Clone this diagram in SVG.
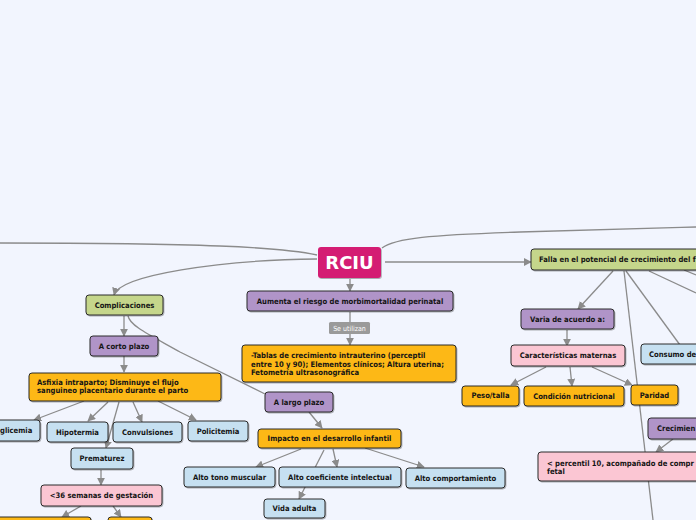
<svg xmlns="http://www.w3.org/2000/svg" width="696" height="520" viewBox="0 0 696 520">
<defs>
<style>
.n rect{stroke:#2b2b2b;stroke-width:1;filter:url(#sh)}
.t{font-family:"DejaVu Sans Condensed","DejaVu Sans",sans-serif;font-weight:bold;font-size:7.6px;fill:#151515}
.c{text-anchor:middle}
.pu{fill:#b094c8}.gr{fill:#c5d68b}.or{fill:#fdb813}.pk{fill:#fbc6d3}.bl{fill:#c6e0f1}
#connectors path{fill:none;stroke:#8b8b8b;stroke-width:1.3}
</style>
<filter id="sh" x="-10%" y="-20%" width="130%" height="160%">
<feDropShadow dx="0.8" dy="1" stdDeviation="0.7" flood-color="#000" flood-opacity="0.3"/>
</filter>
<marker id="ar" viewBox="0 0 10 10" refX="9" refY="5" markerWidth="8" markerHeight="8" markerUnits="userSpaceOnUse" orient="auto">
<path d="M0,0 L10,5 L0,10 z" fill="#8b8b8b"/>
</marker>
</defs>
<rect width="696" height="520" fill="#f2f5fe"/>

<g id="connectors">
<path d="M317,255 C280,247 200,243 0,243"/>
<path d="M317,259 C220,260 120,275 114,295" marker-end="url(#ar)"/>
<path d="M382,248 C395,238 430,235 520,232 S650,228 696,227"/>
<path d="M385,262 L531,262" marker-end="url(#ar)"/>
<path d="M350,279 L350,291" marker-end="url(#ar)"/>
<path d="M350,312 L350,345" marker-end="url(#ar)"/>
<path d="M124,316 L124,336" marker-end="url(#ar)"/>
<path d="M128,316 C130,326 150,335 180,352 L265,394"/>
<path d="M124,356 L124,372" marker-end="url(#ar)"/>
<path d="M84,401 L34,420" marker-end="url(#ar)"/>
<path d="M108,402 L88,421" marker-end="url(#ar)"/>
<path d="M133,402 L142,422" marker-end="url(#ar)"/>
<path d="M158,401 L196,420" marker-end="url(#ar)"/>
<path d="M119,402 L106,448" marker-end="url(#ar)"/>
<path d="M101,470 L101,485" marker-end="url(#ar)"/>
<path d="M81,506 L62,517" marker-end="url(#ar)"/>
<path d="M113,506 L121,517" marker-end="url(#ar)"/>
<path d="M309,412 L322,428" marker-end="url(#ar)"/>
<path d="M301,449 L256,467" marker-end="url(#ar)"/>
<path d="M324,450 L299,499" marker-end="url(#ar)"/>
<path d="M333,449 L337,467" marker-end="url(#ar)"/>
<path d="M365,448 L424,467" marker-end="url(#ar)"/>
<path d="M613,271 L578,309" marker-end="url(#ar)"/>
<path d="M626,271 L680,345"/>
<path d="M624,271 L653,520"/>
<path d="M649,271 L696,293"/>
<path d="M684,270 L696,275"/>
<path d="M567,330 L567,346" marker-end="url(#ar)"/>
<path d="M546,367 L511,385" marker-end="url(#ar)"/>
<path d="M570,367 L572,386" marker-end="url(#ar)"/>
<path d="M592,367 L632,385" marker-end="url(#ar)"/>
<path d="M673,439 L656,452" marker-end="url(#ar)"/>
</g>

<g id="label-se-utilizan">
<rect x="329" y="322" width="41" height="12" rx="1.5" fill="#9a9a9a"/>
<text x="349.5" y="330.5" font-family="DejaVu Sans Condensed,DejaVu Sans,sans-serif" font-size="7" fill="#fff" text-anchor="middle">Se utilizan</text>
</g>

<g id="rciu" class="n">
<rect x="318" y="247" width="63" height="31" rx="3" fill="#d41c73" style="stroke:none"/>
<text x="349.5" y="269" font-family="DejaVu Sans,sans-serif" font-weight="bold" font-size="18" fill="#fff" text-anchor="middle">RCIU</text>
</g>
<g id="aumenta" class="n"><rect class="pu" x="247" y="291" width="206" height="20" rx="3"/><text class="t c" x="350" y="303.7">Aumenta el riesgo de morbimortalidad perinatal</text></g>
<g id="tablas" class="n"><rect class="or" x="242" y="345" width="214" height="37" rx="3"/>
<text class="t" x="251" y="358">-Tablas de crecimiento intrauterino (perceptil</text>
<text class="t" x="251" y="366.5">entre 10 y 90); Elementos clínicos; Altura uterina;</text>
<text class="t" x="251" y="375">Fetometría ultrasonográfica</text></g>

<g id="complicaciones" class="n"><rect class="gr" x="86" y="295" width="77" height="20" rx="3"/><text class="t c" x="124.5" y="307.7">Complicaciones</text></g>
<g id="corto" class="n"><rect class="pu" x="90" y="336" width="68" height="20" rx="3"/><text class="t c" x="124" y="348.7">A corto plazo</text></g>
<g id="asfixia" class="n"><rect class="or" x="29" y="373" width="192" height="28" rx="3"/>
<text class="t" x="37" y="384.5">Asfixia intraparto; Disminuye el flujo</text>
<text class="t" x="37" y="393">sanguineo placentario durante el parto</text></g>
<g id="glicemia" class="n"><rect class="bl" x="-30" y="420" width="70" height="21" rx="3"/><text class="t" x="0" y="433">glicemia</text></g>
<g id="hipotermia" class="n"><rect class="bl" x="47" y="422" width="61" height="20" rx="3"/><text class="t c" x="77.5" y="434.7">Hipotermia</text></g>
<g id="convulsiones" class="n"><rect class="bl" x="113" y="422" width="69" height="20" rx="3"/><text class="t c" x="147.5" y="435.2">Convulsiones</text></g>
<g id="policitemia" class="n"><rect class="bl" x="188" y="421" width="60" height="20" rx="3"/><text class="t c" x="218" y="433.7">Policitemia</text></g>
<g id="prematurez" class="n"><rect class="bl" x="71" y="448" width="62" height="21" rx="3"/><text class="t c" x="102" y="461.2">Prematurez</text></g>
<g id="semanas" class="n"><rect class="pk" x="41" y="485" width="121" height="21" rx="3"/><text class="t c" x="101.5" y="498.2">&lt;36 semanas de gestación</text></g>
<g id="bottom-left" class="n"><rect class="or" x="-20" y="517" width="111" height="20" rx="3"/></g>
<g id="bottom-right" class="n"><rect class="or" x="108" y="517" width="44" height="20" rx="3"/></g>

<g id="largo" class="n"><rect class="pu" x="265" y="392" width="68" height="20" rx="3"/><text class="t c" x="299" y="404.7">A largo plazo</text></g>
<g id="impacto" class="n"><rect class="or" x="258" y="429" width="143" height="19" rx="3"/><text class="t c" x="329.5" y="441.2">Impacto en el desarrollo infantil</text></g>
<g id="tono" class="n"><rect class="bl" x="184" y="467" width="91" height="20" rx="3"/><text class="t c" x="229.5" y="479.7">Alto tono muscular</text></g>
<g id="coeficiente" class="n"><rect class="bl" x="279" y="467" width="122" height="20" rx="3"/><text class="t c" x="340" y="479.7">Alto coeficiente intelectual</text></g>
<g id="comportamiento" class="n"><rect class="bl" x="406" y="468" width="99" height="20" rx="3"/><text class="t c" x="455.5" y="480.7">Alto comportamiento</text></g>
<g id="vida" class="n"><rect class="bl" x="264" y="499" width="61" height="19" rx="3"/><text class="t c" x="294.5" y="511.2">Vida adulta</text></g>

<g id="falla" class="n"><rect class="gr" x="531" y="249" width="200" height="21" rx="3"/><text class="t" x="539" y="262.2">Falla en el potencial de crecimiento del f</text></g>
<g id="varia" class="n"><rect class="pu" x="521" y="309" width="93" height="20" rx="3"/><text class="t c" x="567.5" y="321.7">Varia de acuerdo a:</text></g>
<g id="caracteristicas" class="n"><rect class="pk" x="511" y="345" width="114" height="21" rx="3"/><text class="t c" x="568" y="358.2">Características maternas</text></g>
<g id="consumo" class="n"><rect class="bl" x="641" y="344" width="80" height="20" rx="3"/><text class="t" x="649" y="356.7">Consumo de</text></g>
<g id="peso" class="n"><rect class="or" x="462" y="386" width="57" height="20" rx="3"/><text class="t c" x="490.5" y="398.2">Peso/talla</text></g>
<g id="condicion" class="n"><rect class="or" x="524" y="386" width="100" height="20" rx="3"/><text class="t c" x="574" y="398.7">Condición nutricional</text></g>
<g id="paridad" class="n"><rect class="or" x="631" y="385" width="47" height="20" rx="3"/><text class="t c" x="654.5" y="397.7">Paridad</text></g>
<g id="crecimiento" class="n"><rect class="pu" x="648" y="418" width="80" height="21" rx="3"/><text class="t" x="657" y="431.2">Crecimien</text></g>
<g id="percentil" class="n"><rect class="pk" x="538" y="452" width="200" height="29" rx="3"/>
<text class="t" x="547" y="465.5">&lt; percentil 10, acompañado de compr</text>
<text class="t" x="547" y="474">fetal</text></g>
</svg>
